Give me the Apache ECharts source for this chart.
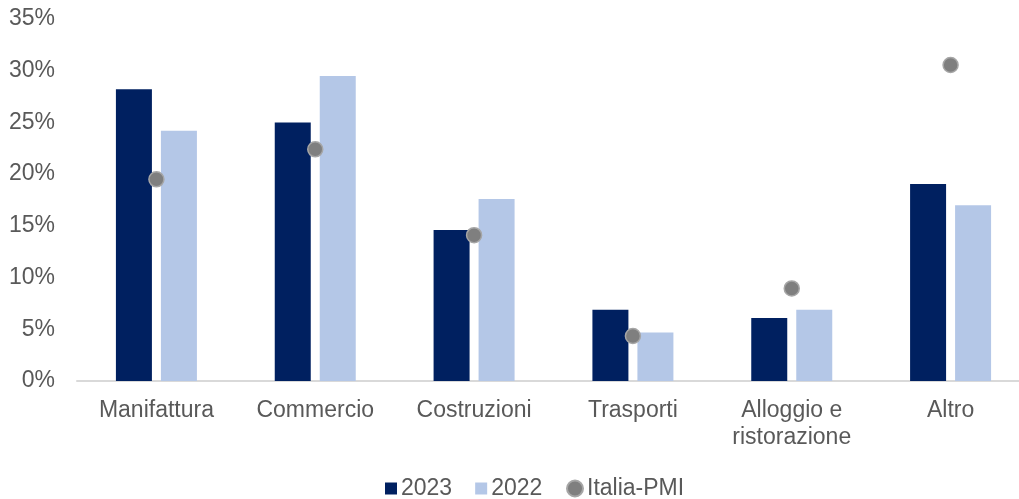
<!DOCTYPE html>
<html>
<head>
<meta charset="utf-8">
<script src="https://cdn.jsdelivr.net/npm/echarts@6/dist/echarts.min.js"></script>
<style>
html,body{margin:0;padding:0;background:#fff;overflow:hidden;width:1019px;height:499px;}
#chart{width:1031px;height:499px;}
</style>
</head>
<body>
<div id="chart"></div>
<script>
const categories = ['Manifattura', 'Commercio', 'Costruzioni', 'Trasporti', 'Alloggio e\nristorazione', 'Altro'];
const values2023 = [28.2, 25.0, 14.6, 6.9, 6.1, 19.05];
const values2022 = [24.2, 29.5, 17.6, 4.7, 6.9, 17.0];
const valuesPMI = [19.5, 22.4, 14.1, 4.35, 8.95, 30.55];
const yTicks = [0, 5, 10, 15, 20, 25, 30, 35];

const font = 'Liberation Sans, Arial, sans-serif';
const chart = echarts.init(document.getElementById('chart'), null, {renderer: 'canvas'});
const legendText = {fontFamily: font, fontSize: 23, color: '#595959', padding: [0, 0, 0, -1]};
chart.setOption({
  animation: false,
  backgroundColor: '#ffffff',
  grid: {left: 77, top: 19, width: 953, height: 362, containLabel: false},
  legend: [
    {
      left: 380, top: 472,
      itemWidth: 12, itemHeight: 12, itemGap: 23,
      textStyle: legendText,
      data: [
        {name: '2023', icon: 'rect'},
        {name: '2022', icon: 'rect'}
      ]
    },
    {
      left: 561, top: 472,
      itemWidth: 16, itemHeight: 16,
      textStyle: legendText,
      data: [{name: 'Italia-PMI', icon: 'circle'}]
    }
  ],
  xAxis: {
    type: 'category',
    data: categories,
    axisLine: {lineStyle: {color: '#d9d9d9', width: 2}},
    axisTick: {show: false},
    axisLabel: {fontFamily: font, fontSize: 23, color: '#595959', margin: 16, lineHeight: 27, interval: 0}
  },
  yAxis: {
    type: 'value',
    min: yTicks[0], max: yTicks[yTicks.length - 1], interval: 5,
    axisLine: {show: false},
    axisTick: {show: false},
    splitLine: {show: false},
    axisLabel: {fontFamily: font, fontSize: 23, color: '#595959', margin: 22, formatter: '{value}%'}
  },
  series: [
    {name: '2023', type: 'bar', data: values2023, barWidth: 36, barGap: '25%',
      itemStyle: {color: '#002060'}},
    {name: '2022', type: 'bar', data: values2022, barWidth: 36, barGap: '25%',
      itemStyle: {color: '#b4c7e7'}},
    {name: 'Italia-PMI', type: 'scatter', data: valuesPMI, symbol: 'circle', symbolSize: 15, z: 5,
      itemStyle: {color: '#7f7f7f', borderColor: '#a6a6a6', borderWidth: 1.5, opacity: 1}}
  ]
});
</script>
</body>
</html>
